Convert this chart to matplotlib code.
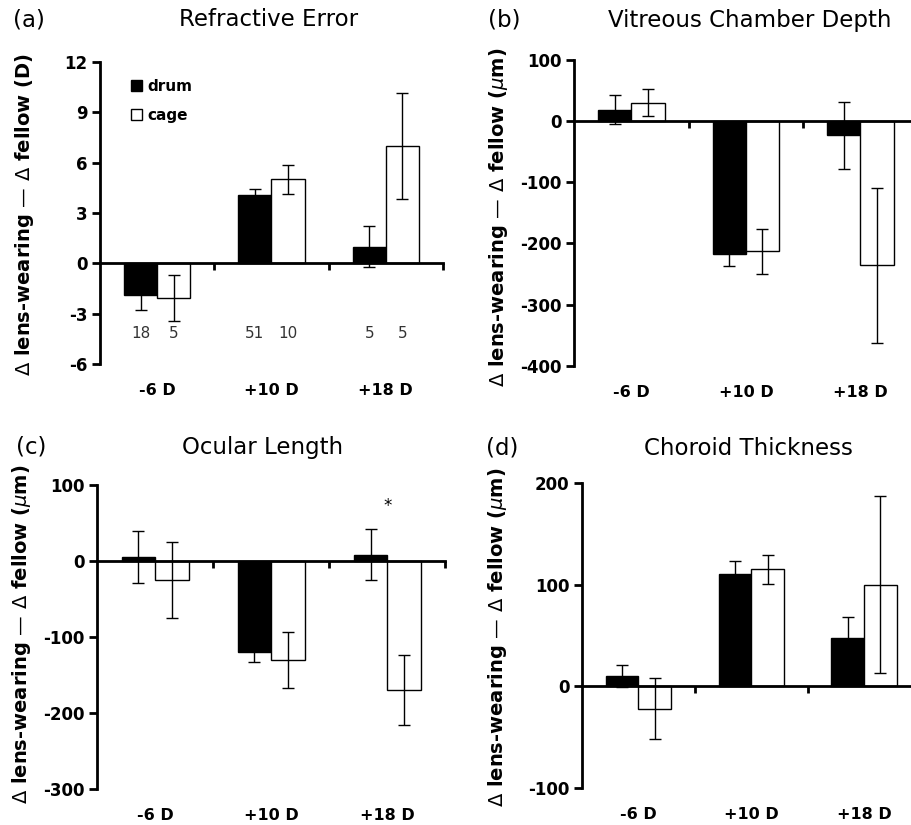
import numpy as np
import matplotlib
matplotlib.use("Agg")
import matplotlib.pyplot as plt
import matplotlib.transforms as mtransforms

plt.rcParams['font.family'] = 'DejaVu Sans'
plt.rcParams['axes.unicode_minus'] = False

categories = ['-6 D', '+10 D', '+18 D']

# (a) refractive error, D
refr_drum = [-1.9, 4.05, 1.0]
refr_drum_err = [0.88, 0.4, 1.2]
refr_cage = [-2.08, 5.0, 7.0]
refr_cage_err = [1.37, 0.85, 3.15]
refr_n_drum = [18, 51, 5]
refr_n_cage = [5, 10, 5]

# (b) vitreous chamber depth, um
vcd_drum = [19, -218, -23]
vcd_drum_err = [24, 19, 55]
vcd_cage = [30, -213, -236]
vcd_cage_err = [22, 37, 127]

# (c) ocular length, um
ol_drum = [5, -120, 8]
ol_drum_err = [34, 13, 34]
ol_cage = [-25, -131, -170]
ol_cage_err = [50, 37, 46]

# (d) choroid thickness, um
ct_drum = [10, 111, 48]
ct_drum_err = [11, 12, 20]
ct_cage = [-22, 115, 100]
ct_cage_err = [30, 14, 87]

fig = plt.figure(figsize=(9.12, 8.25), dpi=100)

bw = 0.29
x = np.arange(len(categories))


def draw_panel(rect, drum, drum_err, cage, cage_err, ylim, ystep):
    ax = fig.add_axes(rect)
    ax.bar(x - bw / 2, drum, bw, color='black', edgecolor='black', linewidth=1, label='drum')
    ax.bar(x + bw / 2, cage, bw, color='white', edgecolor='black', linewidth=1, label='cage')
    ax.errorbar(x - bw / 2, drum, yerr=drum_err, fmt='none', ecolor='black',
                elinewidth=1, capsize=4, capthick=1)
    ax.errorbar(x + bw / 2, cage, yerr=cage_err, fmt='none', ecolor='black',
                elinewidth=1, capsize=4, capthick=1)
    ax.set_xlim(-0.5, 2.5)
    ax.set_ylim(*ylim)
    ax.set_yticks(np.arange(ylim[0], ylim[1] + ystep / 2, ystep))
    ax.spines['top'].set_visible(False)
    ax.spines['right'].set_visible(False)
    ax.spines['left'].set_linewidth(2)
    ax.spines['bottom'].set_linewidth(2)
    ax.spines['bottom'].set_position(('data', 0))
    ax.set_xticks([0.5, 1.5, 2.5])
    ax.set_xticklabels([])
    ax.tick_params(axis='x', direction='out', length=5, width=2)
    ax.tick_params(axis='y', direction='out', length=6, width=2, labelsize=12, pad=3)
    for lab in ax.get_yticklabels():
        lab.set_fontweight('bold')
    trans = mtransforms.blended_transform_factory(ax.transData, ax.transAxes)
    for xi, cat in zip(x, categories):
        ax.annotate(cat, xy=(xi, 0), xycoords=trans, xytext=(0, -19),
                    textcoords='offset points', ha='center', va='center',
                    fontsize=11.5, fontweight='bold')
    return ax


ax_a = draw_panel([0.1096, 0.5588, 0.3761, 0.366], refr_drum, refr_drum_err,
                  refr_cage, refr_cage_err, (-6, 12), 3)
ax_b = draw_panel([0.6294, 0.5567, 0.3769, 0.3706], vcd_drum, vcd_drum_err,
                  vcd_cage, vcd_cage_err, (-400, 100), 100)
ax_c = draw_panel([0.1067, 0.044, 0.3816, 0.3685], ol_drum, ol_drum_err,
                  ol_cage, ol_cage_err, (-300, 100), 100)
ax_d = draw_panel([0.6382, 0.0448, 0.371, 0.3697], ct_drum, ct_drum_err,
                  ct_cage, ct_cage_err, (-100, 200), 100)

# sample sizes in (a)
for xi, nd, nc in zip(x, refr_n_drum, refr_n_cage):
    ax_a.text(xi - bw / 2, -4.17, str(nd), ha='center', va='center', fontsize=11, color='#333333')
    ax_a.text(xi + bw / 2, -4.17, str(nc), ha='center', va='center', fontsize=11, color='#333333')

leg = ax_a.legend(loc='upper left', bbox_to_anchor=(0.09, 0.945), frameon=False,
                  handlelength=0.7, handleheight=0.7, handletextpad=0.4,
                  labelspacing=0.95, borderaxespad=0, borderpad=0,
                  prop={'weight': 'bold', 'size': 11})

# significance mark in (c)
ax_c.text(x[2], 72, '*', ha='center', va='center', fontsize=12)

# titles and panel letters
titles = [('(a)', 29, 'Refractive Error', 269, 20),
          ('(b)', 504, 'Vitreous Chamber Depth', 750, 20),
          ('(c)', 31, 'Ocular Length', 263, 447),
          ('(d)', 502, 'Choroid Thickness', 748, 448)]
for letter, lx, title, tx, ty in titles:
    fig.text(lx / 912, 1 - ty / 825, letter, ha='center', va='center', fontsize=16.5)
    fig.text(tx / 912, 1 - ty / 825, title, ha='center', va='center', fontsize=16.5)

ylabels = [(r'$\Delta$ lens-wearing — $\Delta$ fellow (D)', 25, 215),
           (r'$\Delta$ lens-wearing — $\Delta$ fellow ($\mu$m)', 499, 217),
           (r'$\Delta$ lens-wearing — $\Delta$ fellow ($\mu$m)', 22, 634),
           (r'$\Delta$ lens-wearing — $\Delta$ fellow ($\mu$m)', 498, 637)]
for txt, px, py in ylabels:
    fig.text(px / 912, 1 - py / 825, txt, rotation=90, ha='center', va='center',
             fontsize=14, fontweight='bold')

fig.savefig('out.png', dpi=100)
